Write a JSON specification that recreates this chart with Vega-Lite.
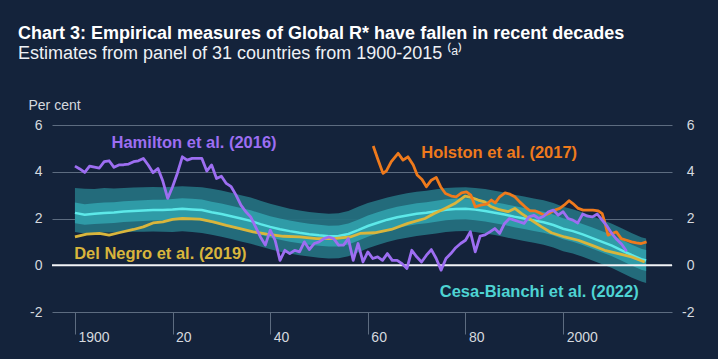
{
  "$schema": "https://vega.github.io/schema/vega-lite/v6.json",
  "width": 620,
  "height": 187,
  "autosize": "none",
  "padding": {"left": 52, "top": 125, "right": 46, "bottom": 47},
  "background": "#14233b",
  "config": {
    "view": {"stroke": null},
    "font": "Liberation Sans",
    "title": {"font": "Liberation Sans", "fontSize": 18, "fontWeight": "bold", "color": "#ffffff", "subtitleFont": "Liberation Sans", "subtitleFontSize": 18, "subtitleColor": "#eef1f5", "subtitleFontWeight": "normal", "anchor": "start", "frame": "group", "dx": -34, "offset": 35, "subtitlePadding": 2}
  },
  "title": {"text": "Chart 3: Empirical measures of Global R* have fallen in recent decades", "subtitle": "Estimates from panel of 31 countries from 1900-2015 ⁽ᵃ⁾"},
  "datasets": {
    "cb": [
      {"year": 1900, "mid": 2.24, "lo1": 1.8, "hi1": 2.68, "lo2": 1.42, "hi2": 3.3},
      {"year": 1902, "mid": 2.16, "lo1": 1.73, "hi1": 2.61, "lo2": 1.36, "hi2": 3.27},
      {"year": 1904, "mid": 2.2, "lo1": 1.76, "hi1": 2.65, "lo2": 1.38, "hi2": 3.26},
      {"year": 1906, "mid": 2.24, "lo1": 1.79, "hi1": 2.68, "lo2": 1.4, "hi2": 3.3},
      {"year": 1908, "mid": 2.26, "lo1": 1.81, "hi1": 2.7, "lo2": 1.4, "hi2": 3.28},
      {"year": 1910, "mid": 2.3, "lo1": 1.85, "hi1": 2.74, "lo2": 1.42, "hi2": 3.3},
      {"year": 1912, "mid": 2.32, "lo1": 1.87, "hi1": 2.76, "lo2": 1.43, "hi2": 3.33},
      {"year": 1914, "mid": 2.34, "lo1": 1.89, "hi1": 2.78, "lo2": 1.43, "hi2": 3.34},
      {"year": 1916, "mid": 2.36, "lo1": 1.91, "hi1": 2.8, "lo2": 1.44, "hi2": 3.35},
      {"year": 1918, "mid": 2.36, "lo1": 1.91, "hi1": 2.8, "lo2": 1.43, "hi2": 3.34},
      {"year": 1920, "mid": 2.38, "lo1": 1.93, "hi1": 2.83, "lo2": 1.42, "hi2": 3.36},
      {"year": 1922, "mid": 2.42, "lo1": 1.96, "hi1": 2.87, "lo2": 1.45, "hi2": 3.38},
      {"year": 1924, "mid": 2.39, "lo1": 1.94, "hi1": 2.84, "lo2": 1.42, "hi2": 3.36},
      {"year": 1926, "mid": 2.36, "lo1": 1.91, "hi1": 2.81, "lo2": 1.38, "hi2": 3.34},
      {"year": 1928, "mid": 2.27, "lo1": 1.82, "hi1": 2.72, "lo2": 1.3, "hi2": 3.27},
      {"year": 1930, "mid": 2.19, "lo1": 1.74, "hi1": 2.64, "lo2": 1.22, "hi2": 3.2},
      {"year": 1932, "mid": 2.1, "lo1": 1.65, "hi1": 2.55, "lo2": 1.12, "hi2": 3.1},
      {"year": 1934, "mid": 2.0, "lo1": 1.55, "hi1": 2.45, "lo2": 1.02, "hi2": 3.0},
      {"year": 1936, "mid": 1.9, "lo1": 1.45, "hi1": 2.35, "lo2": 0.92, "hi2": 2.9},
      {"year": 1938, "mid": 1.76, "lo1": 1.31, "hi1": 2.22, "lo2": 0.8, "hi2": 2.76},
      {"year": 1940, "mid": 1.64, "lo1": 1.19, "hi1": 2.1, "lo2": 0.68, "hi2": 2.63},
      {"year": 1942, "mid": 1.54, "lo1": 1.09, "hi1": 2.0, "lo2": 0.58, "hi2": 2.52},
      {"year": 1944, "mid": 1.46, "lo1": 1.01, "hi1": 1.91, "lo2": 0.5, "hi2": 2.42},
      {"year": 1946, "mid": 1.39, "lo1": 0.94, "hi1": 1.84, "lo2": 0.43, "hi2": 2.34},
      {"year": 1948, "mid": 1.33, "lo1": 0.88, "hi1": 1.78, "lo2": 0.37, "hi2": 2.28},
      {"year": 1950, "mid": 1.28, "lo1": 0.83, "hi1": 1.73, "lo2": 0.32, "hi2": 2.23},
      {"year": 1952, "mid": 1.24, "lo1": 0.8, "hi1": 1.69, "lo2": 0.29, "hi2": 2.2},
      {"year": 1954, "mid": 1.25, "lo1": 0.8, "hi1": 1.7, "lo2": 0.3, "hi2": 2.22},
      {"year": 1956, "mid": 1.34, "lo1": 0.89, "hi1": 1.79, "lo2": 0.38, "hi2": 2.32},
      {"year": 1958, "mid": 1.5, "lo1": 1.05, "hi1": 1.95, "lo2": 0.55, "hi2": 2.5},
      {"year": 1960, "mid": 1.68, "lo1": 1.22, "hi1": 2.13, "lo2": 0.73, "hi2": 2.66},
      {"year": 1962, "mid": 1.82, "lo1": 1.37, "hi1": 2.27, "lo2": 0.87, "hi2": 2.78},
      {"year": 1964, "mid": 1.95, "lo1": 1.5, "hi1": 2.4, "lo2": 1.0, "hi2": 2.9},
      {"year": 1966, "mid": 2.05, "lo1": 1.6, "hi1": 2.5, "lo2": 1.1, "hi2": 3.0},
      {"year": 1968, "mid": 2.13, "lo1": 1.68, "hi1": 2.58, "lo2": 1.18, "hi2": 3.08},
      {"year": 1970, "mid": 2.2, "lo1": 1.75, "hi1": 2.65, "lo2": 1.25, "hi2": 3.14},
      {"year": 1972, "mid": 2.25, "lo1": 1.8, "hi1": 2.7, "lo2": 1.3, "hi2": 3.19},
      {"year": 1974, "mid": 2.31, "lo1": 1.86, "hi1": 2.76, "lo2": 1.36, "hi2": 3.25},
      {"year": 1976, "mid": 2.37, "lo1": 1.92, "hi1": 2.82, "lo2": 1.42, "hi2": 3.3},
      {"year": 1978, "mid": 2.41, "lo1": 1.96, "hi1": 2.86, "lo2": 1.45, "hi2": 3.33},
      {"year": 1980, "mid": 2.42, "lo1": 1.97, "hi1": 2.87, "lo2": 1.46, "hi2": 3.34},
      {"year": 1982, "mid": 2.38, "lo1": 1.93, "hi1": 2.83, "lo2": 1.42, "hi2": 3.31},
      {"year": 1984, "mid": 2.32, "lo1": 1.87, "hi1": 2.77, "lo2": 1.36, "hi2": 3.26},
      {"year": 1986, "mid": 2.25, "lo1": 1.8, "hi1": 2.7, "lo2": 1.29, "hi2": 3.19},
      {"year": 1988, "mid": 2.17, "lo1": 1.72, "hi1": 2.62, "lo2": 1.21, "hi2": 3.11},
      {"year": 1990, "mid": 2.08, "lo1": 1.63, "hi1": 2.53, "lo2": 1.12, "hi2": 3.02},
      {"year": 1992, "mid": 2.0, "lo1": 1.55, "hi1": 2.45, "lo2": 1.04, "hi2": 2.94},
      {"year": 1994, "mid": 1.92, "lo1": 1.47, "hi1": 2.37, "lo2": 0.96, "hi2": 2.86},
      {"year": 1996, "mid": 1.84, "lo1": 1.39, "hi1": 2.29, "lo2": 0.88, "hi2": 2.78},
      {"year": 1998, "mid": 1.72, "lo1": 1.27, "hi1": 2.17, "lo2": 0.76, "hi2": 2.66},
      {"year": 2000, "mid": 1.56, "lo1": 1.11, "hi1": 2.01, "lo2": 0.6, "hi2": 2.5},
      {"year": 2002, "mid": 1.46, "lo1": 1.01, "hi1": 1.91, "lo2": 0.5, "hi2": 2.4},
      {"year": 2004, "mid": 1.32, "lo1": 0.87, "hi1": 1.77, "lo2": 0.36, "hi2": 2.26},
      {"year": 2006, "mid": 1.16, "lo1": 0.71, "hi1": 1.61, "lo2": 0.2, "hi2": 2.1},
      {"year": 2008, "mid": 1.0, "lo1": 0.55, "hi1": 1.45, "lo2": 0.04, "hi2": 1.94},
      {"year": 2010, "mid": 0.84, "lo1": 0.39, "hi1": 1.29, "lo2": -0.12, "hi2": 1.78},
      {"year": 2012, "mid": 0.64, "lo1": 0.19, "hi1": 1.09, "lo2": -0.32, "hi2": 1.58},
      {"year": 2014, "mid": 0.44, "lo1": -0.01, "hi1": 0.89, "lo2": -0.52, "hi2": 1.38},
      {"year": 2016, "mid": 0.26, "lo1": -0.19, "hi1": 0.71, "lo2": -0.7, "hi2": 1.2},
      {"year": 2017, "mid": 0.2, "lo1": -0.25, "hi1": 0.65, "lo2": -0.76, "hi2": 1.14}
    ],
    "lines": [
      {"series": "Del Negro", "year": 1900, "value": 1.21},
      {"series": "Del Negro", "year": 1902.4, "value": 1.33},
      {"series": "Del Negro", "year": 1905, "value": 1.36},
      {"series": "Del Negro", "year": 1907, "value": 1.29},
      {"series": "Del Negro", "year": 1909, "value": 1.39},
      {"series": "Del Negro", "year": 1912, "value": 1.53},
      {"series": "Del Negro", "year": 1914, "value": 1.64},
      {"series": "Del Negro", "year": 1916, "value": 1.81},
      {"series": "Del Negro", "year": 1918, "value": 1.86},
      {"series": "Del Negro", "year": 1920, "value": 1.96},
      {"series": "Del Negro", "year": 1922, "value": 2.0},
      {"series": "Del Negro", "year": 1925.6, "value": 1.97},
      {"series": "Del Negro", "year": 1928.3, "value": 1.86},
      {"series": "Del Negro", "year": 1931, "value": 1.71},
      {"series": "Del Negro", "year": 1933.8, "value": 1.57},
      {"series": "Del Negro", "year": 1936.5, "value": 1.43},
      {"series": "Del Negro", "year": 1939.3, "value": 1.33},
      {"series": "Del Negro", "year": 1942.7, "value": 1.24},
      {"series": "Del Negro", "year": 1946, "value": 1.21},
      {"series": "Del Negro", "year": 1949.5, "value": 1.14},
      {"series": "Del Negro", "year": 1953, "value": 1.14},
      {"series": "Del Negro", "year": 1956.4, "value": 1.21},
      {"series": "Del Negro", "year": 1958.4, "value": 1.36},
      {"series": "Del Negro", "year": 1961.4, "value": 1.39},
      {"series": "Del Negro", "year": 1964.8, "value": 1.53},
      {"series": "Del Negro", "year": 1968.2, "value": 1.79},
      {"series": "Del Negro", "year": 1971.7, "value": 2.0},
      {"series": "Del Negro", "year": 1973.6, "value": 2.21},
      {"series": "Del Negro", "year": 1975.8, "value": 2.43},
      {"series": "Del Negro", "year": 1977.8, "value": 2.64},
      {"series": "Del Negro", "year": 1979.9, "value": 2.96},
      {"series": "Del Negro", "year": 1981.2, "value": 2.9},
      {"series": "Del Negro", "year": 1982.6, "value": 2.79},
      {"series": "Del Negro", "year": 1983.9, "value": 2.71},
      {"series": "Del Negro", "year": 1985.3, "value": 2.5},
      {"series": "Del Negro", "year": 1986.7, "value": 2.39},
      {"series": "Del Negro", "year": 1988.7, "value": 2.29},
      {"series": "Del Negro", "year": 1990.1, "value": 2.43},
      {"series": "Del Negro", "year": 1991.5, "value": 2.21},
      {"series": "Del Negro", "year": 1993.5, "value": 1.93},
      {"series": "Del Negro", "year": 1995.6, "value": 1.64},
      {"series": "Del Negro", "year": 1997.6, "value": 1.39},
      {"series": "Del Negro", "year": 2000.3, "value": 1.21},
      {"series": "Del Negro", "year": 2003.1, "value": 1.07},
      {"series": "Del Negro", "year": 2005.8, "value": 0.86},
      {"series": "Del Negro", "year": 2008.5, "value": 0.64},
      {"series": "Del Negro", "year": 2011.3, "value": 0.5},
      {"series": "Del Negro", "year": 2014, "value": 0.36},
      {"series": "Del Negro", "year": 2016.7, "value": 0.14},
      {"series": "Holston", "year": 1961.1, "value": 5.1},
      {"series": "Holston", "year": 1962.1, "value": 4.5},
      {"series": "Holston", "year": 1963.1, "value": 3.93},
      {"series": "Holston", "year": 1963.8, "value": 4.04},
      {"series": "Holston", "year": 1964.8, "value": 4.43},
      {"series": "Holston", "year": 1966.2, "value": 4.79},
      {"series": "Holston", "year": 1967.2, "value": 4.5},
      {"series": "Holston", "year": 1968.2, "value": 4.64},
      {"series": "Holston", "year": 1969.3, "value": 4.29},
      {"series": "Holston", "year": 1970.1, "value": 3.86},
      {"series": "Holston", "year": 1971.1, "value": 3.67},
      {"series": "Holston", "year": 1972, "value": 3.36},
      {"series": "Holston", "year": 1973, "value": 3.64},
      {"series": "Holston", "year": 1974, "value": 3.76},
      {"series": "Holston", "year": 1974.9, "value": 3.36},
      {"series": "Holston", "year": 1975.9, "value": 3.07},
      {"series": "Holston", "year": 1977.1, "value": 2.96},
      {"series": "Holston", "year": 1978.1, "value": 2.93},
      {"series": "Holston", "year": 1979.2, "value": 3.1},
      {"series": "Holston", "year": 1980.2, "value": 3.14},
      {"series": "Holston", "year": 1981.1, "value": 3.0},
      {"series": "Holston", "year": 1982, "value": 2.5},
      {"series": "Holston", "year": 1983.1, "value": 2.57},
      {"series": "Holston", "year": 1984.3, "value": 2.61},
      {"series": "Holston", "year": 1985.3, "value": 2.79},
      {"series": "Holston", "year": 1986.1, "value": 2.67},
      {"series": "Holston", "year": 1987, "value": 2.93},
      {"series": "Holston", "year": 1988.1, "value": 3.1},
      {"series": "Holston", "year": 1989.1, "value": 3.04},
      {"series": "Holston", "year": 1990.1, "value": 2.93},
      {"series": "Holston", "year": 1991.1, "value": 2.71},
      {"series": "Holston", "year": 1992.2, "value": 2.5},
      {"series": "Holston", "year": 1993.2, "value": 2.33},
      {"series": "Holston", "year": 1994.2, "value": 2.33},
      {"series": "Holston", "year": 1995.2, "value": 2.24},
      {"series": "Holston", "year": 1996.2, "value": 2.14},
      {"series": "Holston", "year": 1997.3, "value": 2.24},
      {"series": "Holston", "year": 1998.3, "value": 2.36},
      {"series": "Holston", "year": 1999.3, "value": 2.43},
      {"series": "Holston", "year": 2000.2, "value": 2.57},
      {"series": "Holston", "year": 2001.2, "value": 2.76},
      {"series": "Holston", "year": 2002, "value": 2.64},
      {"series": "Holston", "year": 2003.1, "value": 2.43},
      {"series": "Holston", "year": 2004.1, "value": 2.36},
      {"series": "Holston", "year": 2005.1, "value": 2.36},
      {"series": "Holston", "year": 2006.1, "value": 2.36},
      {"series": "Holston", "year": 2007.2, "value": 2.33},
      {"series": "Holston", "year": 2008, "value": 2.21},
      {"series": "Holston", "year": 2008.5, "value": 1.86},
      {"series": "Holston", "year": 2009.2, "value": 1.29},
      {"series": "Holston", "year": 2010, "value": 1.36},
      {"series": "Holston", "year": 2010.9, "value": 1.43},
      {"series": "Holston", "year": 2011.9, "value": 1.14},
      {"series": "Holston", "year": 2013, "value": 1.07},
      {"series": "Holston", "year": 2014, "value": 1.0},
      {"series": "Holston", "year": 2015, "value": 0.96},
      {"series": "Holston", "year": 2016, "value": 0.93},
      {"series": "Holston", "year": 2017.1, "value": 1.0},
      {"series": "Hamilton", "year": 1900, "value": 4.24},
      {"series": "Hamilton", "year": 1901, "value": 4.12},
      {"series": "Hamilton", "year": 1902, "value": 3.97},
      {"series": "Hamilton", "year": 1903, "value": 4.24},
      {"series": "Hamilton", "year": 1904, "value": 4.2},
      {"series": "Hamilton", "year": 1905, "value": 4.16},
      {"series": "Hamilton", "year": 1906, "value": 4.43},
      {"series": "Hamilton", "year": 1907, "value": 4.47},
      {"series": "Hamilton", "year": 1908, "value": 4.19},
      {"series": "Hamilton", "year": 1909, "value": 4.29},
      {"series": "Hamilton", "year": 1910, "value": 4.3},
      {"series": "Hamilton", "year": 1911, "value": 4.33},
      {"series": "Hamilton", "year": 1912, "value": 4.43},
      {"series": "Hamilton", "year": 1913, "value": 4.47},
      {"series": "Hamilton", "year": 1914, "value": 4.57},
      {"series": "Hamilton", "year": 1915, "value": 4.29},
      {"series": "Hamilton", "year": 1916, "value": 3.96},
      {"series": "Hamilton", "year": 1917, "value": 4.14},
      {"series": "Hamilton", "year": 1918, "value": 3.6},
      {"series": "Hamilton", "year": 1919, "value": 2.86},
      {"series": "Hamilton", "year": 1920, "value": 3.36},
      {"series": "Hamilton", "year": 1921, "value": 3.95},
      {"series": "Hamilton", "year": 1922, "value": 4.64},
      {"series": "Hamilton", "year": 1923, "value": 4.5},
      {"series": "Hamilton", "year": 1924, "value": 4.57},
      {"series": "Hamilton", "year": 1925, "value": 4.57},
      {"series": "Hamilton", "year": 1926, "value": 4.57},
      {"series": "Hamilton", "year": 1927, "value": 4.03},
      {"series": "Hamilton", "year": 1928, "value": 4.29},
      {"series": "Hamilton", "year": 1929, "value": 3.71},
      {"series": "Hamilton", "year": 1930, "value": 3.81},
      {"series": "Hamilton", "year": 1931, "value": 3.5},
      {"series": "Hamilton", "year": 1932, "value": 3.36},
      {"series": "Hamilton", "year": 1933, "value": 3.0},
      {"series": "Hamilton", "year": 1934, "value": 2.57},
      {"series": "Hamilton", "year": 1935, "value": 2.29},
      {"series": "Hamilton", "year": 1936, "value": 2.07},
      {"series": "Hamilton", "year": 1937, "value": 1.64},
      {"series": "Hamilton", "year": 1938, "value": 1.21},
      {"series": "Hamilton", "year": 1939, "value": 0.86},
      {"series": "Hamilton", "year": 1940, "value": 1.5},
      {"series": "Hamilton", "year": 1941, "value": 1.07},
      {"series": "Hamilton", "year": 1942, "value": 0.21},
      {"series": "Hamilton", "year": 1943, "value": 0.64},
      {"series": "Hamilton", "year": 1944, "value": 0.5},
      {"series": "Hamilton", "year": 1945, "value": 0.64},
      {"series": "Hamilton", "year": 1946, "value": 0.57},
      {"series": "Hamilton", "year": 1947, "value": 1.0},
      {"series": "Hamilton", "year": 1948, "value": 0.67},
      {"series": "Hamilton", "year": 1949, "value": 0.93},
      {"series": "Hamilton", "year": 1950, "value": 1.0},
      {"series": "Hamilton", "year": 1951, "value": 1.14},
      {"series": "Hamilton", "year": 1952, "value": 1.21},
      {"series": "Hamilton", "year": 1953, "value": 1.14},
      {"series": "Hamilton", "year": 1954, "value": 0.86},
      {"series": "Hamilton", "year": 1955, "value": 0.86},
      {"series": "Hamilton", "year": 1956, "value": 1.14},
      {"series": "Hamilton", "year": 1957, "value": 0.21},
      {"series": "Hamilton", "year": 1958, "value": 0.93},
      {"series": "Hamilton", "year": 1959, "value": 0.14},
      {"series": "Hamilton", "year": 1960, "value": 0.57},
      {"series": "Hamilton", "year": 1961, "value": 0.29},
      {"series": "Hamilton", "year": 1962, "value": 0.36},
      {"series": "Hamilton", "year": 1963, "value": 0.21},
      {"series": "Hamilton", "year": 1964, "value": 0.5},
      {"series": "Hamilton", "year": 1965, "value": 0.21},
      {"series": "Hamilton", "year": 1966, "value": 0.21},
      {"series": "Hamilton", "year": 1967, "value": 0.07},
      {"series": "Hamilton", "year": 1968, "value": -0.14},
      {"series": "Hamilton", "year": 1969, "value": 0.64},
      {"series": "Hamilton", "year": 1970, "value": 0.36},
      {"series": "Hamilton", "year": 1971, "value": 0.14},
      {"series": "Hamilton", "year": 1972, "value": 0.43},
      {"series": "Hamilton", "year": 1973, "value": 0.67},
      {"series": "Hamilton", "year": 1974, "value": 0.29},
      {"series": "Hamilton", "year": 1975, "value": -0.21},
      {"series": "Hamilton", "year": 1976, "value": 0.29},
      {"series": "Hamilton", "year": 1977, "value": 0.5},
      {"series": "Hamilton", "year": 1978, "value": 0.75},
      {"series": "Hamilton", "year": 1979, "value": 0.93},
      {"series": "Hamilton", "year": 1980, "value": 1.07},
      {"series": "Hamilton", "year": 1981, "value": 1.43},
      {"series": "Hamilton", "year": 1982, "value": 0.57},
      {"series": "Hamilton", "year": 1983, "value": 1.25},
      {"series": "Hamilton", "year": 1984, "value": 1.3},
      {"series": "Hamilton", "year": 1985, "value": 1.43},
      {"series": "Hamilton", "year": 1986, "value": 1.57},
      {"series": "Hamilton", "year": 1987, "value": 1.36},
      {"series": "Hamilton", "year": 1988, "value": 1.79},
      {"series": "Hamilton", "year": 1989, "value": 2.0},
      {"series": "Hamilton", "year": 1990, "value": 1.93},
      {"series": "Hamilton", "year": 1991, "value": 1.86},
      {"series": "Hamilton", "year": 1992, "value": 1.79},
      {"series": "Hamilton", "year": 1993, "value": 2.07},
      {"series": "Hamilton", "year": 1994, "value": 2.14},
      {"series": "Hamilton", "year": 1995, "value": 2.0},
      {"series": "Hamilton", "year": 1996, "value": 2.1},
      {"series": "Hamilton", "year": 1997, "value": 2.29},
      {"series": "Hamilton", "year": 1998, "value": 2.36},
      {"series": "Hamilton", "year": 1999, "value": 2.14},
      {"series": "Hamilton", "year": 2000, "value": 2.29},
      {"series": "Hamilton", "year": 2001, "value": 2.0},
      {"series": "Hamilton", "year": 2002, "value": 1.93},
      {"series": "Hamilton", "year": 2003, "value": 1.81},
      {"series": "Hamilton", "year": 2004, "value": 2.19},
      {"series": "Hamilton", "year": 2005, "value": 2.1},
      {"series": "Hamilton", "year": 2006, "value": 2.07},
      {"series": "Hamilton", "year": 2007, "value": 2.19},
      {"series": "Hamilton", "year": 2008, "value": 1.93},
      {"series": "Hamilton", "year": 2009, "value": 1.67},
      {"series": "Hamilton", "year": 2010, "value": 1.35},
      {"series": "Hamilton", "year": 2011, "value": 1.1},
      {"series": "Hamilton", "year": 2012, "value": 0.9},
      {"series": "Hamilton", "year": 2013, "value": 0.6}
    ],
    "labels": [
      {"series": "Hamilton", "year": 1924.4, "value": 5.23, "text": "Hamilton et al. (2016)"},
      {"series": "Holston", "year": 1986.9, "value": 4.8, "text": "Holston et al. (2017)"},
      {"series": "Del Negro", "year": 1917.5, "value": 0.47, "text": "Del Negro et al. (2019)"},
      {"series": "Cesa-Bianchi", "year": 1995.1, "value": -1.16, "text": "Cesa-Bianchi et al. (2022)"}
    ],
    "zero": [{"value": 0}]
  },
  "resolve": {"axis": {"y": "independent"}},
  "layer": [
    {
      "data": {"name": "cb"},
      "mark": {"type": "area", "color": "#24707e", "opacity": 0.95},
      "encoding": {
        "x": {"field": "year", "type": "quantitative", "scale": {"domain": [1895.3, 2022.3], "nice": false, "zero": false},
          "axis": {"values": [1900, 1920, 1940, 1960, 1980, 2000], "domain": false, "grid": false, "ticks": true, "tickSize": 22, "tickColor": "#5d6c80", "tickWidth": 1, "labelAlign": "left", "labelOffset": 3, "labelPadding": -4, "labelBaseline": "top", "labelFontSize": 14, "labelColor": "#d5d9df", "labelFont": "Liberation Sans", "title": null,
            "labelExpr": "datum.value % 100 == 0 ? '' + datum.value : substring('' + datum.value, 2)"}},
        "y": {"field": "lo2", "type": "quantitative", "scale": {"domain": [-2, 6], "nice": false},
          "axis": {"orient": "left", "values": [-2, 0, 2, 4, 6], "grid": true, "gridColor": "#5d6c80", "gridWidth": 1, "domain": false, "ticks": false, "labelPadding": 10, "labelFontSize": 14, "labelColor": "#d5d9df", "labelFont": "Liberation Sans", "labelExpr": "'' + datum.value",
            "title": "Per cent", "titleAngle": 0, "titleAlign": "left", "titleBaseline": "middle", "titleX": -24, "titleY": -20, "titleFontWeight": "normal", "titleFontSize": 14, "titleColor": "#d5d9df", "titleFont": "Liberation Sans"}},
        "y2": {"field": "hi2"}
      }
    },
    {
      "data": {"name": "cb"},
      "mark": {"type": "area", "color": "#2f9ba7"},
      "encoding": {
        "x": {"field": "year", "type": "quantitative"},
        "y": {"field": "lo1", "type": "quantitative",
          "axis": {"orient": "right", "values": [-2, 0, 2, 4, 6], "grid": false, "domain": false, "ticks": false, "labelAlign": "right", "labelPadding": 22, "labelFontSize": 14, "labelColor": "#d5d9df", "labelFont": "Liberation Sans", "labelExpr": "'' + datum.value", "title": null}},
        "y2": {"field": "hi1"}
      }
    },
    {
      "data": {"name": "cb"},
      "mark": {"type": "line", "color": "#5de9e9", "strokeWidth": 2.5},
      "encoding": {
        "x": {"field": "year", "type": "quantitative"},
        "y": {"field": "mid", "type": "quantitative", "axis": null}
      }
    },
    {
      "data": {"name": "zero"},
      "mark": {"type": "rule", "color": "#f2f4f7", "strokeWidth": 2},
      "encoding": {
        "y": {"field": "value", "type": "quantitative", "axis": null}
      }
    },
    {
      "data": {"name": "lines"},
      "mark": {"type": "line", "strokeWidth": 2.8, "strokeJoin": "round"},
      "encoding": {
        "x": {"field": "year", "type": "quantitative"},
        "y": {"field": "value", "type": "quantitative", "axis": null},
        "color": {"field": "series", "type": "nominal", "legend": null,
          "scale": {"domain": ["Hamilton", "Holston", "Del Negro", "Cesa-Bianchi"], "range": ["#9d6ef2", "#ef7a1c", "#d9b53c", "#4ed3d3"]}},
        "strokeWidth": {"condition": {"test": "datum.series == 'Del Negro'", "value": 1.6}, "value": 2.8}
      }
    },
    {
      "data": {"name": "labels"},
      "mark": {"type": "text", "font": "Liberation Sans", "fontWeight": "bold", "fontSize": 16.5, "align": "center", "baseline": "middle"},
      "encoding": {
        "x": {"field": "year", "type": "quantitative"},
        "y": {"field": "value", "type": "quantitative", "axis": null},
        "text": {"field": "text"},
        "color": {"field": "series", "type": "nominal", "legend": null}
      }
    }
  ]
}
